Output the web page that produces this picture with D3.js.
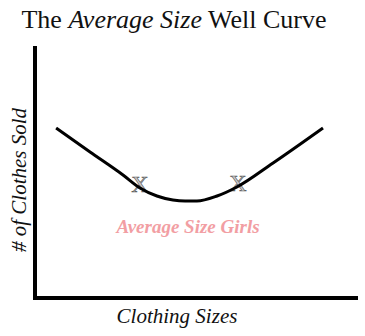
<!DOCTYPE html>
<html>
<head>
<meta charset="utf-8">
<script src="https://cdn.jsdelivr.net/npm/d3@7"></script>
<style>
  body { margin: 0; background: #fff; }
  text, tspan { font-family: "Liberation Serif", "DejaVu Serif", serif; }
</style>
</head>
<body>
<div id="wrapper"></div>
<script>
// clothing size position (arbitrary units) vs clothes sold
const sizes = [0.66, 1.72, 2.75, 3.28, 3.81, 4.31, 4.69, 5.06, 5.69, 6.31, 7.44, 9.0]
const sold = [6.8, 5.84, 4.92, 4.4, 4.08, 3.92, 3.88, 3.88, 4.08, 4.44, 5.4, 6.8]
const markerSizes = [3.28, 6.34]
const markerSold = [4.56, 4.6]
const titleParts = ['The ', 'Average Size', ' Well Curve']

const serif = '"Liberation Serif", "DejaVu Serif", serif'

function renderChart() {
    const dimensions = {
        width: 365,
        height: 336,
        margins: { top: 48, right: 10, bottom: 38, left: 35 }
    }
    dimensions.boundedWidth = dimensions.width - dimensions.margins.left - dimensions.margins.right
    dimensions.boundedHeight = dimensions.height - dimensions.margins.top - dimensions.margins.bottom

    const svg = d3.select('#wrapper')
        .append('svg')
        .attr('width', dimensions.width)
        .attr('height', dimensions.height)

    const bounds = svg.append('g')
        .attr('transform', `translate(${dimensions.margins.left}, ${dimensions.margins.top})`)

    const xScale = d3.scaleLinear().domain([0, 10]).range([0, 320])
    const yScale = d3.scaleLinear().domain([0, 10]).range([dimensions.boundedHeight, dimensions.boundedHeight - 250])

    // title, middle part italic
    svg.append('text')
        .attr('x', 174)
        .attr('y', 28)
        .attr('text-anchor', 'middle')
        .style('font-size', '26px')
        .attr('fill', '#111')
        .selectAll('tspan')
        .data(titleParts)
        .join('tspan')
        .style('font-style', (d, i) => i === 1 ? 'italic' : 'normal')
        .text(d => d)

    // axes (plain thick lines, no ticks)
    bounds.append('line')
        .attr('x1', 0).attr('x2', 0)
        .attr('y1', -2).attr('y2', dimensions.boundedHeight + 2)
        .attr('stroke', '#000').attr('stroke-width', 4)
    bounds.append('line')
        .attr('x1', -2).attr('x2', 323)
        .attr('y1', dimensions.boundedHeight).attr('y2', dimensions.boundedHeight)
        .attr('stroke', '#000').attr('stroke-width', 4)

    // X markers (drawn under the curve)
    bounds.selectAll('.marker')
        .data(markerSizes)
        .join('text')
        .attr('class', 'marker')
        .attr('x', d => xScale(d))
        .attr('y', (d, i) => yScale(markerSold[i]) + 8)
        .attr('text-anchor', 'middle')
        .style('font-size', '24px')
        .attr('fill', '#cfcfcf')
        .attr('stroke', '#555')
        .attr('stroke-width', 0.6)
        .text('X')

    const lineGenerator = d3.line()
        .x((d, i) => xScale(sizes[i]))
        .y(d => yScale(d))
        .curve(d3.curveMonotoneX)

    bounds.append('path')
        .attr('d', lineGenerator(sold))
        .attr('fill', 'none')
        .attr('stroke', '#000')
        .attr('stroke-width', 3)

    svg.append('text')
        .attr('x', 188)
        .attr('y', 233)
        .attr('text-anchor', 'middle')
        .style('font-size', '19px')
        .style('font-style', 'italic')
        .style('font-weight', 'bold')
        .attr('fill', '#f29ea3')
        .text('Average Size Girls')

    svg.append('text')
        .attr('x', 177)
        .attr('y', 323)
        .attr('text-anchor', 'middle')
        .style('font-size', '21px')
        .style('font-style', 'italic')
        .attr('fill', '#111')
        .text('Clothing Sizes')

    svg.append('text')
        .attr('transform', 'translate(26, 180) rotate(-90)')
        .attr('text-anchor', 'middle')
        .style('font-size', '21px')
        .style('font-style', 'italic')
        .attr('fill', '#111')
        .text('# of Clothes Sold')
}

renderChart()
</script>
</body>
</html>
